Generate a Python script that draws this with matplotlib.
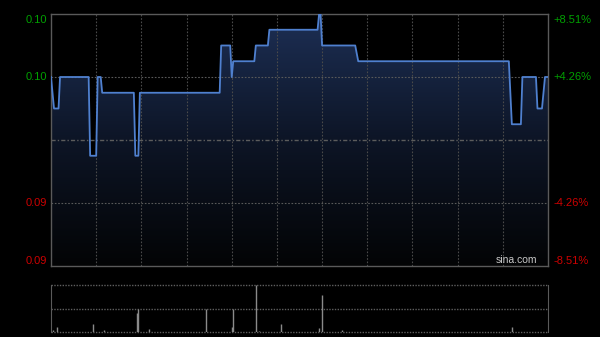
import numpy as np
import matplotlib
matplotlib.use("Agg")
import matplotlib.pyplot as plt
from matplotlib.patches import PathPatch
from matplotlib.colors import LinearSegmentedColormap

# ---- data ----
prev_close = 0.094
times = [0, 2, 5, 6, 25, 26, 30, 31, 33, 34, 55, 56, 58, 59, 112, 113, 119, 120, 121,
         135, 136, 144, 145, 177, 178, 179, 180, 202, 204, 304, 306, 312, 313, 322,
         323, 326, 328, 330]
prices = [0.098, 0.096, 0.096, 0.098, 0.098, 0.093, 0.093, 0.098, 0.098, 0.097, 0.097,
          0.093, 0.093, 0.097, 0.097, 0.100, 0.100, 0.098, 0.099, 0.099, 0.100, 0.100,
          0.101, 0.101, 0.102, 0.102, 0.100, 0.100, 0.099, 0.099, 0.095, 0.095, 0.098,
          0.098, 0.096, 0.096, 0.098, 0.098]
vol_times = [1, 4, 28, 35, 57, 58, 65, 103, 120, 121, 136, 138, 153, 178, 180, 193, 306]
volumes = [4, 11, 18, 4, 40, 50, 6, 50, 11, 49, 100, 3, 18, 9, 79, 4, 10]
left_labels = ["0.10", "0.10", "0.09", "0.09"]
right_labels = ["+8.51%", "+4.26%", "-4.26%", "-8.51%"]
pct_levels = [0.0851, 0.0426, -0.0426, -0.0851]

plt.rcParams['font.family'] = ['Liberation Sans', 'DejaVu Sans']

fig = plt.figure(figsize=(6.0, 3.37), dpi=100, facecolor='black')
W, H = 600, 337
ax = fig.add_axes([51 / W, 1 - 266 / H, 497 / W, 252 / H])
axv = fig.add_axes([51 / W, 1 - 332 / H, 497 / W, 47 / H])

ymin = prev_close * (1 - 0.0851)
ymax = prev_close * (1 + 0.0851)
for a in (ax, axv):
    a.set_facecolor('black')
    a.set_xlim(0, 330)
    a.set_xticks([])
    a.set_yticks([])

ax.set_ylim(ymin, ymax)
for s in ax.spines.values():
    s.set_color('#5a5a5a')
    s.set_linewidth(1.0)

# gradient fill under the line
fill = ax.fill_between(times, prices, ymin, color='none', lw=0)
path = fill.get_paths()[0]
patch = PathPatch(path, facecolor='none', edgecolor='none')
ax.add_patch(patch)
cmap = LinearSegmentedColormap.from_list('g', ['#030405', '#0d1526', '#1d2f55'])
grad = np.linspace(0, 1, 256).reshape(-1, 1)
im = ax.imshow(grad, extent=[0, 330, ymin, ymax], origin='lower', aspect='auto',
               cmap=cmap, zorder=1)
im.set_clip_path(patch)

# grid (drawn over the fill)
for t in range(30, 330, 30):
    ax.axvline(t, color='#4a4a4a', lw=0.8, ls=(0, (1.5, 1.5)), zorder=2)
for p in (0.0426, -0.0426):
    ax.axhline(prev_close * (1 + p), color='#5a5a5a', lw=0.8, ls=(0, (1.5, 1.5)), zorder=2)
ax.axhline(prev_close, color='#5c5c5c', lw=1.0, ls=(0, (3, 1.5, 1, 1.5)), zorder=2)

ax.plot(times, prices, color='#4f80cf', lw=1.3, zorder=3)

# labels
for lbl, rl, p in zip(left_labels, right_labels, pct_levels):
    y = prev_close * (1 + p)
    col = '#00a000' if p > 0 else '#cc0000'
    va = 'center'
    yy = y
    if p == 0.0851:
        va = 'top'
        yy = ymax - (ymax - ymin) * 0.003
    elif p == -0.0851:
        va = 'bottom'
        yy = ymin + (ymax - ymin) * 0.0
    ax.text(-4 / 497 * 330, yy, lbl, color=col, fontsize=8, ha='right', va=va,
            transform=ax.transData, clip_on=False)
    ax.text(330 + 5 / 497 * 330, yy, rl, color=col, fontsize=8, ha='left', va=va,
            transform=ax.transData, clip_on=False)

ax.text(0.979, 0.005, 'sina.com', color='#c8c8c8', fontsize=7.5, ha='right', va='bottom',
        transform=ax.transAxes, zorder=5)

# volume panel
vtop = max(volumes) * 1.005
axv.set_ylim(0, vtop)
axv.spines['top'].set_visible(False)
axv.spines['bottom'].set_visible(False)
axv.spines['left'].set_color('#5a5a5a')
axv.spines['right'].set_color('#5a5a5a')
for fy in (1.0, 0.5, 0.0):
    axv.axhline(vtop * fy, color='#5f5f5f', lw=1.0, ls=(0, (1, 1)),
                clip_on=False, zorder=1)
axv.vlines(vol_times, 0, volumes, color='#8a8a8a', lw=1.0, zorder=2)

fig.savefig('out.png', dpi=100, facecolor='black')
